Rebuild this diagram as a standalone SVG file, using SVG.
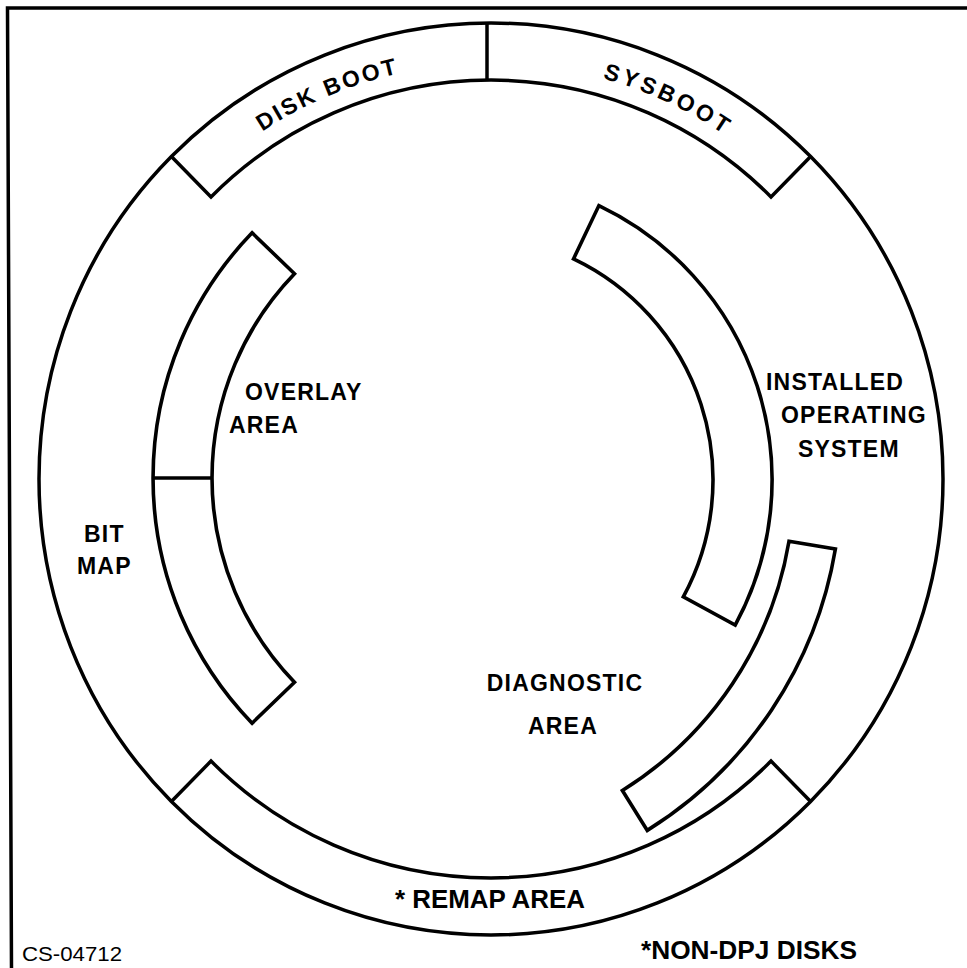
<svg xmlns="http://www.w3.org/2000/svg" xmlns:xlink="http://www.w3.org/1999/xlink" width="967" height="968" viewBox="0 0 967 968">
  <style>
    .edge { fill: none; stroke: #000; stroke-width: 3.5; stroke-linejoin: miter; stroke-linecap: butt; }
    .band { fill: #fff; stroke: #000; stroke-width: 3.6; stroke-linejoin: miter; }
    .lbl { font-family: "Liberation Sans", Arial, Helvetica, sans-serif; font-weight: bold; font-size: 23px; letter-spacing: 1.2px; fill: #000; }
    .note { font-family: "Liberation Sans", Arial, Helvetica, sans-serif; font-weight: bold; font-size: 25px; fill: #000; }
    .code { font-family: "Liberation Sans", Arial, Helvetica, sans-serif; font-size: 21px; fill: #000; }
  </style>
  <defs>
    <!-- baselines for the labels that follow the outer ring -->
    <path id="arcDiskBoot" d="M120.3,290.1 A416,416 0 0 1 612.6,81.2"/>
    <path id="arcSysboot" d="M383.3,77.2 A416,416 0 0 1 868,303.2"/>
  </defs>

  <rect x="0" y="0" width="967" height="968" fill="#fff"/>

  <!-- figure frame (open at right and bottom) -->
  <polyline class="edge" points="967,8 7.5,8 11.5,968"/>

  <!-- outer ring of the disk -->
  <g id="outer-ring">
    <ellipse class="edge" cx="491" cy="479" rx="452" ry="456"/>
  </g>

  <!-- boot blocks on the top of the ring -->
  <g id="boot-blocks">
    <path class="edge" d="M171.4,156.6 L211,196.9 A396,399 0 0 1 771,196.9 L810.6,156.6"/>
    <text class="lbl" style="letter-spacing:2.5px"><textPath xlink:href="#arcDiskBoot" startOffset="50%" text-anchor="middle">DISK BOOT</textPath></text>
    <text class="lbl" style="letter-spacing:3.5px"><textPath xlink:href="#arcSysboot" startOffset="50%" text-anchor="middle">SYSBOOT</textPath></text>
  </g>

  <!-- remap area on the bottom of the ring -->
  <g id="remap-area">
    <path class="edge" d="M810.6,801.4 L771,761.1 A396,399 0 0 1 211,761.1 L171.4,801.4"/>
    <text class="note" x="395" y="908" textLength="190" lengthAdjust="spacingAndGlyphs">* REMAP AREA</text>
  </g>

  <!-- bit map lives in the open left part of the ring -->
  <g id="bit-map">
    <text class="lbl" x="84" y="542">BIT</text>
    <text class="lbl" x="77" y="574">MAP</text>
  </g>

  <!-- overlay area band (split in two) -->
  <g id="overlay-area">
    <path class="band" d="M294.5,273.8 L252.1,232.8 A353,353 0 0 0 252.1,723.2 L294.5,682.2 A294,294 0 0 1 294.5,273.8 Z"/>
    <text class="lbl" x="245" y="400">OVERLAY</text>
    <text class="lbl" x="229" y="433">AREA</text>
  </g>

  <!-- installed operating system band -->
  <g id="installed-os">
    <path class="band" d="M573.5,258.9 L598.9,205.6 A304,304 0 0 1 735.2,625.1 L683.3,596.9 A245,245 0 0 0 573.5,258.9 Z"/>
    <text class="lbl" x="766" y="390">INSTALLED</text>
    <text class="lbl" x="781" y="423">OPERATING</text>
    <text class="lbl" x="798" y="457">SYSTEM</text>
  </g>

  <!-- diagnostic area band -->
  <g id="diagnostic-area">
    <path class="band" d="M789,541.2 L835.4,549 A412,412 0 0 1 647.3,830.4 L622.4,790.5 A365,365 0 0 0 789,541.2 Z"/>
    <text class="lbl" x="565" y="691" text-anchor="middle">DIAGNOSTIC</text>
    <text class="lbl" x="563" y="734" text-anchor="middle">AREA</text>
  </g>

  <!-- dividing strokes between adjacent areas -->
  <g id="connectors">
    <line class="edge" x1="487" y1="23" x2="487" y2="80"/>
    <line class="edge" x1="153" y1="478" x2="212" y2="478"/>
  </g>

  <!-- footnotes -->
  <g id="footnotes">
    <text class="code" x="22" y="961" textLength="100" lengthAdjust="spacingAndGlyphs">CS-04712</text>
    <text class="note" x="641" y="959" font-size="26" textLength="216" lengthAdjust="spacingAndGlyphs">*NON-DPJ DISKS</text>
  </g>
</svg>
